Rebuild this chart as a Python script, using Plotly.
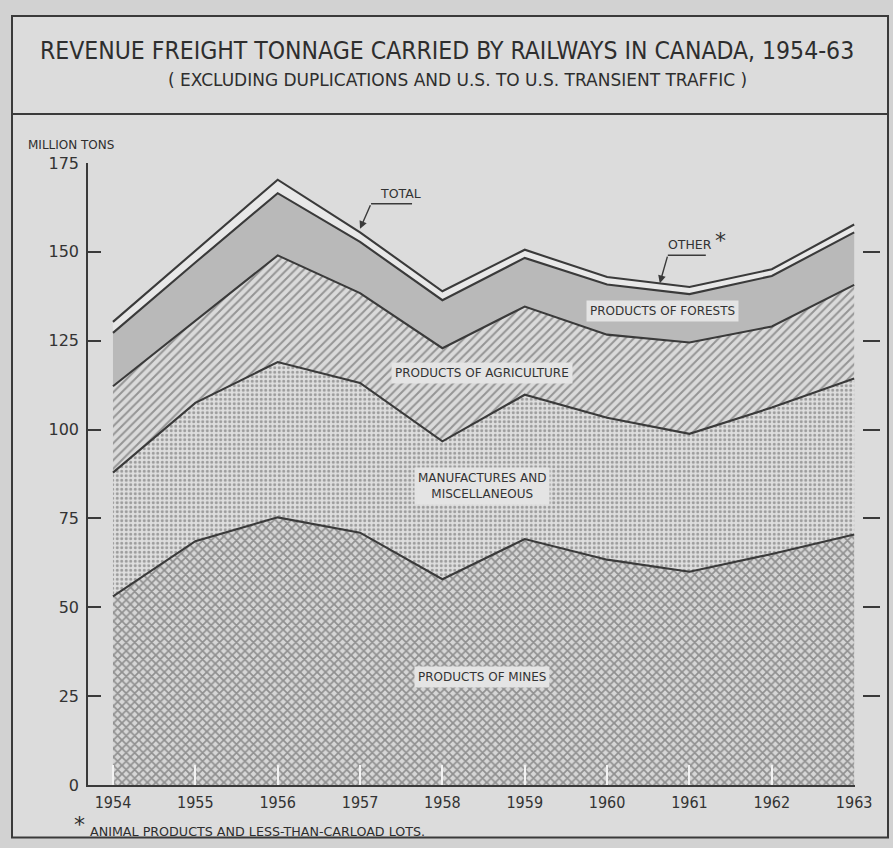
import plotly.graph_objects as go

# ---- data (million tons) ----
years = [1954, 1955, 1956, 1957, 1958, 1959, 1960, 1961, 1962, 1963]
year_labels = ["1954", "1955", "1956", "1957", "1958", "1959", "1960", "1961", "1962", "1963"]
mines = [53.1, 68.6, 75.3, 71.0, 57.9, 69.2, 63.4, 60.0, 65.0, 70.5]
manufactures = [34.8, 38.9, 43.7, 42.1, 38.8, 40.6, 39.9, 38.8, 41.2, 43.9]
agriculture = [24.3, 23.2, 30.0, 25.3, 26.2, 24.8, 23.4, 25.7, 22.8, 26.3]
forests = [15.0, 16.3, 17.5, 14.4, 13.5, 13.7, 14.1, 13.6, 14.2, 14.8]
other = [3.1, 3.4, 3.8, 2.7, 2.5, 2.3, 2.1, 2.0, 1.9, 2.2]
y_ticks = [0, 25, 50, 75, 100, 125, 150, 175]
y_tick_labels = ["0", "25", "50", "75", "100", "125", "150", "175"]

LINE = "#3a3a3a"
BG = "#dcdcdc"
W, H = 893, 848
ML, MR, MT, MB = 88, 13, 163, 62.5
PW, PH = W - ML - MR, H - MT - MB


def px(xp):
    return (xp - ML) / PW


def py(yp):
    return (H - MB - yp) / PH


fig = go.Figure()

series = [
    ("Products of mines", mines, dict(fillpattern=dict(shape="x", size=6, solidity=0.5, fgcolor="#4a4a4a", bgcolor="#d6d6d6"))),
    ("Manufactures and miscellaneous", manufactures, dict(fillpattern=dict(shape=".", size=4.5, solidity=0.35, fgcolor="#5a5a5a", bgcolor="#dedede"))),
    ("Products of agriculture", agriculture, dict(fillpattern=dict(shape="/", size=6, solidity=0.33, fgcolor="#505050", bgcolor="#dadada"))),
    ("Products of forests", forests, dict(fillcolor="#b9b9b9")),
    ("Other", other, dict(fillcolor="#e8e8e8")),
]
for name, vals, fillopts in series:
    fig.add_trace(go.Scatter(
        x=years, y=vals, name=name, mode="lines", stackgroup="one",
        line=dict(color=LINE, width=2.1), hoverinfo="skip", **fillopts))

FONT = "DejaVu Sans"
COND = "DejaVu Sans Condensed, Liberation Sans Narrow, DejaVu Sans"

fig.update_layout(
    width=W, height=H, autosize=False,
    margin=dict(l=ML, r=MR, t=MT, b=MB, pad=0, autoexpand=False),
    paper_bgcolor="#d2d2d2", plot_bgcolor="rgba(0,0,0,0)",
    showlegend=False,
    xaxis=dict(domain=[0, (855 - ML) / PW], range=[1954 - 25 / 82.44, 1963.01],
               tickvals=years, ticktext=year_labels, ticks="inside", ticklen=20,
               tickcolor="#f2f2f2", tickwidth=2, showline=True, linecolor=LINE, linewidth=1.6,
               showgrid=False, zeroline=False, tickfont=dict(family=COND, size=16, color="#333"),
               ticklabelstandoff=2, automargin=False),
    yaxis=dict(range=[0, 175], tickvals=y_ticks, ticktext=y_tick_labels, ticks="inside",
               ticklen=13, tickcolor=LINE, tickwidth=1.5, showline=True, linecolor=LINE,
               linewidth=1.6, showgrid=False, zeroline=False,
               tickfont=dict(family=FONT, size=16, color="#333"), ticklabelstandoff=4,
               automargin=False),
    yaxis2=dict(range=[0, 175], overlaying="y", side="right", anchor="free", position=1.0,
                tickvals=y_ticks[1:], ticks="inside", ticklen=17, tickcolor=LINE, tickwidth=1.5,
                showticklabels=False, showline=False, showgrid=False, zeroline=False,
                automargin=False),
)
# invisible trace so yaxis2 is drawn
fig.add_trace(go.Scatter(x=[years[0]], y=[0], yaxis="y2", mode="markers",
                         marker=dict(opacity=0), hoverinfo="skip", showlegend=False))

shapes = [
    dict(type="rect", xref="paper", yref="paper", x0=px(12), x1=px(888), y0=py(838), y1=py(16),
         line=dict(color=LINE, width=2), fillcolor=BG, layer="below"),
    dict(type="line", xref="paper", yref="paper", x0=px(12), x1=px(888), y0=py(114), y1=py(114),
         line=dict(color=LINE, width=2)),
    dict(type="line", xref="x", yref="y", xsizemode="pixel", ysizemode="pixel",
         xanchor=1957.0, yanchor=156.5, x0=11, x1=52, y0=25, y1=25, line=dict(color=LINE, width=1.5)),
    dict(type="line", xref="x", yref="y", xsizemode="pixel", ysizemode="pixel",
         xanchor=1960.64, yanchor=141.2, x0=8, x1=46, y0=28, y1=28, line=dict(color=LINE, width=1.5)),
]
fig.update_layout(shapes=shapes)


def pann(text, x, y, size, family=FONT, xanchor="center"):
    return dict(text=text, xref="paper", yref="paper", x=px(x), y=py(y), showarrow=False,
                xanchor=xanchor, yanchor="middle", font=dict(family=family, size=size, color="#2e2e2e"))


lab_bg = "#e4e4e4"
LF = dict(family=FONT, size=12, color="#333")
ann = [
    pann("REVENUE FREIGHT TONNAGE CARRIED BY RAILWAYS IN CANADA, 1954-63", 447, 50, 24.5, COND),
    pann("( EXCLUDING DUPLICATIONS AND U.S. TO U.S. TRANSIENT TRAFFIC )", 457, 80, 17, FONT),
    pann("MILLION TONS", 71, 145, 12),
    pann("*", 79, 825, 22),
    pann("ANIMAL PRODUCTS AND LESS-THAN-CARLOAD LOTS.", 88, 832, 12.7, xanchor="left"),
    dict(text="", x=1957.0, y=156.5, ax=11, ay=-25, showarrow=True, arrowhead=2,
         arrowsize=1.1, arrowwidth=1.4, arrowcolor=LINE),
    dict(text="TOTAL", x=1957.0, y=156.5, xshift=40, yshift=35, showarrow=False,
         font=dict(family=FONT, size=12.5, color="#333")),
    dict(text="", x=1960.64, y=141.2, ax=8, ay=-28, showarrow=True, arrowhead=2,
         arrowsize=1.1, arrowwidth=1.4, arrowcolor=LINE),
    dict(text="OTHER", x=1960.64, y=141.2, xshift=30, yshift=39, showarrow=False,
         font=dict(family=FONT, size=12.5, color="#333")),
    dict(text="*", x=1960.64, y=141.2, xshift=61, yshift=43, showarrow=False,
         font=dict(family=FONT, size=22, color="#333")),
    dict(text="PRODUCTS OF FORESTS", x=1960.67, y=133.5, showarrow=False, bgcolor=lab_bg,
         borderpad=3, font=LF),
    dict(text="PRODUCTS OF AGRICULTURE", x=1958.48, y=115.9, showarrow=False, bgcolor=lab_bg,
         borderpad=3, font=LF),
    dict(text="MANUFACTURES AND<br>MISCELLANEOUS", x=1958.48, y=84.2, showarrow=False,
         bgcolor=lab_bg, borderpad=3, font=LF),
    dict(text="PRODUCTS OF MINES", x=1958.48, y=30.4, showarrow=False, bgcolor=lab_bg,
         borderpad=3, font=LF),
]
fig.update_layout(annotations=ann)

post = ("document.body.style.margin='0';document.body.style.overflow='hidden';"
        "var gd=document.getElementById('{plot_id}');"
        "Plotly.relayout(gd,{width:893,height:848});")
fig.write_html("out.html", config={"responsive": False, "displayModeBar": False},
               post_script=post)
